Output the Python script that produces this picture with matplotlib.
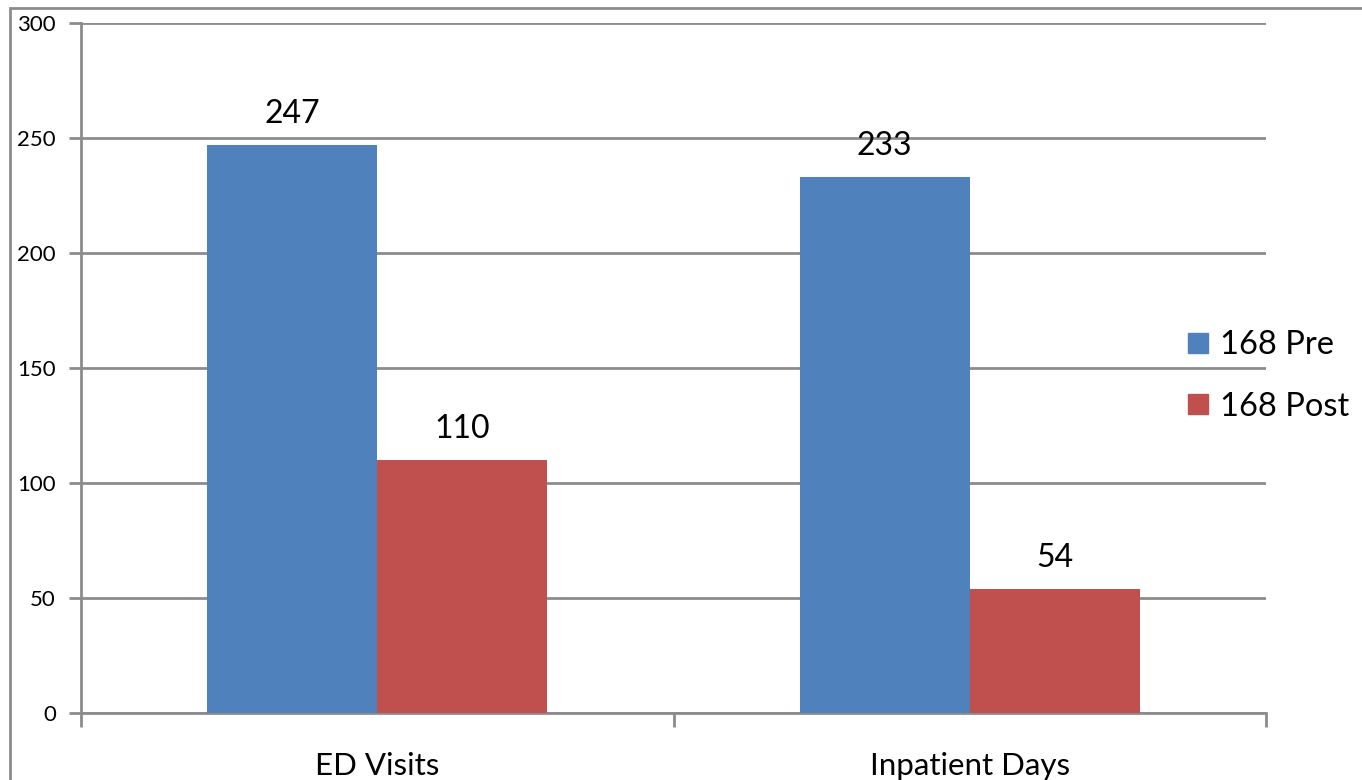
import numpy as np
import matplotlib.pyplot as plt
from matplotlib.patches import Rectangle, Patch

categories = ['ED Visits', 'Inpatient Days']
pre = [247, 233]
post = [110, 54]
series_names = ['168 Pre', '168 Post']

blue = '#4F81BD'
red = '#C0504D'
grey = '#8C8C8C'

plt.rcParams['font.family'] = ['Lato', 'DejaVu Sans']

fig = plt.figure(figsize=(13.62, 7.80), dpi=100)
ax = fig.add_axes([81/1362, 1 - 713/780, (1266 - 81)/1362, (713 - 23)/780])

# outer chart frame (partly cropped in the reference)
fig.patches.append(Rectangle((10/1362, -0.1), 1.2, 1 - 8/780 + 0.1,
                             transform=fig.transFigure, fill=False,
                             edgecolor=grey, linewidth=2))

x = np.arange(len(categories))
w = 0.287
b1 = ax.bar(x - w/2, pre, w, color=blue, label=series_names[0], zorder=3)
b2 = ax.bar(x + w/2, post, w, color=red, label=series_names[1], zorder=3)

for bars in (b1, b2):
    for r in bars:
        ax.text(r.get_x() + r.get_width()/2, r.get_height() + 7, str(int(r.get_height())),
                ha='center', va='bottom', fontsize=23)

ax.set_xlim(-0.5, 1.5)
ax.set_ylim(0, 300)
ax.set_yticks(range(0, 301, 50))
ax.set_xticks([-0.5, 0.5, 1.5])
ax.set_xticklabels([])
ax.set_xticks(x, minor=True)
ax.set_xticklabels(categories, minor=True, fontsize=22.5)
ax.tick_params(axis='x', which='minor', length=0, pad=28)
ax.tick_params(axis='x', which='major', length=10, width=2, color=grey)
ax.tick_params(axis='y', length=9, width=2, color=grey, labelsize=16, pad=9)

ax.grid(axis='y', color=grey, linewidth=2, zorder=0)
for s in ['top', 'right']:
    ax.spines[s].set_visible(False)
for s in ['left', 'bottom']:
    ax.spines[s].set_color(grey)
    ax.spines[s].set_linewidth(2)

handles = [Patch(color=blue), Patch(color=red)]
fig.legend(handles, series_names, loc='center left', bbox_to_anchor=(1159/1362, 1 - 376/780),
           frameon=False, fontsize=23.5, handlelength=0.61, handleheight=0.61,
           handletextpad=0.37, labelspacing=0.95)

fig.savefig('out.png', dpi=100)
